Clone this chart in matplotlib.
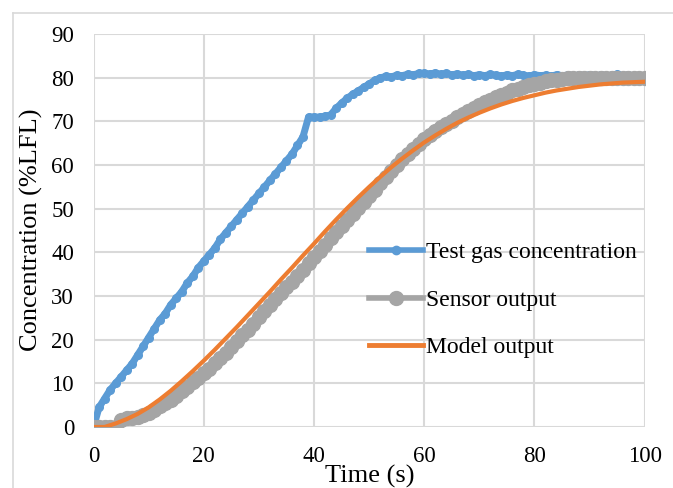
import matplotlib
matplotlib.use('Agg')
import matplotlib.pyplot as plt
from matplotlib.lines import Line2D
import numpy as np

plt.rcParams['font.family'] = ['Liberation Serif', 'DejaVu Serif']

# time axis (s) for the measured series, 1 s steps
t_meas = np.arange(0, 101, 1)

test_gas = [0, 4.5, 6.5, 8.5, 10, 11.5, 13, 14.5, 16.5, 18.5,
            20.5, 22.5, 24.5, 26, 28, 29.5, 31, 33, 34.5, 36.5,
            38, 39.5, 41, 43, 44.5, 46, 47.5, 49, 50.5, 52,
            53.5, 55, 56.5, 58, 59.5, 61, 62.5, 64.5, 66.5, 71,
            71, 71, 71.2, 71.5, 73, 74.2, 75.3, 76.2, 77, 77.8,
            78.6, 79.4, 80, 80.3, 80.2, 80.6, 80.5, 80.8, 80.7, 81,
            81, 80.9, 81.1, 80.8, 81, 80.7, 80.9, 80.6, 80.8, 80.5,
            80.7, 80.5, 80.8, 80.6, 80.4, 80.7, 80.5, 80.8, 80.6, 80.4,
            80.7, 80.5, 80.6, 80.4, 80.7, 80.5, 80.6, 80.4, 80.6, 80.5,
            80.7, 80.5, 80.6, 80.4, 80.6, 80.8, 80.5, 80.6, 80.4, 80.3,
            80.2]

sensor = [0, 0, 0, 0, 0, 1.5, 2, 2, 2.2, 2.7,
          3.3, 4, 4.7, 5.5, 6.3, 7.2, 8.2, 9.2, 10.2, 11.2,
          12.3, 13.4, 14.6, 15.8, 17, 18.3, 19.6, 21, 22.3, 23.7,
          25.1, 26.5, 27.9, 29.3, 30.7, 32, 33.3, 34.6, 36, 37.5,
          39, 40.4, 41.8, 43.2, 44.6, 46, 47.4, 48.8, 50.2, 51.6,
          53, 54.4, 55.8, 57.2, 58.6, 60, 61.3, 62.5, 63.7, 64.8,
          65.9, 66.9, 67.8, 68.7, 69.5, 70.2, 71, 71.7, 72.4, 73.1,
          73.8, 74.4, 75, 75.6, 76.1, 76.6, 77.1, 77.5, 77.9, 78.3,
          78.6, 78.9, 79.2, 79.4, 79.6, 79.8, 79.9, 80, 80, 80,
          80, 80, 80, 80, 80, 80, 80, 80, 80, 80,
          80]

# model output, 2 s steps
t_model = np.arange(0, 101, 2)
model = [0, 0, 0.8, 1.8, 3, 4.5, 6.3, 8.3, 10.5, 12.8,
         15.2, 17.7, 20.3, 22.9, 25.6, 28.3, 31, 33.8, 36.5, 39.3,
         42, 44.8, 47.5, 50.1, 52.6, 55, 57.3, 59.5, 61.5, 63.4,
         65.2, 66.8, 68.3, 69.7, 70.9, 72, 73, 73.9, 74.7, 75.4,
         76, 76.6, 77.1, 77.5, 77.9, 78.2, 78.5, 78.7, 78.9, 79.0,
         79.1]

labels = ['Test gas concentration', 'Sensor output', 'Model output']
colors = ['#5B9BD5', '#A5A5A5', '#ED7D31']

fig = plt.figure(figsize=(6.73, 4.88), dpi=100)
ax = fig.add_axes([0.139, 0.125, 0.819, 0.805])

ax.plot(t_meas, test_gas, color=colors[0], lw=5, marker='o', ms=5.5, zorder=3)
ax.plot(t_meas, sensor, color=colors[1], lw=5, marker='o', ms=10, zorder=4)
ax.plot(t_model, model, color=colors[2], lw=3, zorder=5)

ax.set_xlim(0, 100)
ax.set_ylim(0, 90)
ax.set_xticks(np.arange(0, 101, 20))
ax.set_yticks(np.arange(0, 91, 10))
ax.grid(True, color='#d9d9d9', lw=1.5)
ax.set_axisbelow(True)
for s in ax.spines.values():
    s.set_visible(False)
ax.tick_params(length=0, labelsize=16.5, colors='black')
ax.tick_params(axis='y', pad=14)
ax.tick_params(axis='x', pad=14)

ax.set_xlabel('Time (s)', fontsize=19, va='center')
ax.xaxis.set_label_coords(0.501, -0.125)
ax.set_ylabel('Concentration (%LFL)', fontsize=19, va='center')
ax.yaxis.set_label_coords(-0.112, 0.502)

handles = [Line2D([], [], color=colors[0], lw=4, marker='o', ms=6),
           Line2D([], [], color=colors[1], lw=4, marker='o', ms=10),
           Line2D([], [], color=colors[2], lw=3.5)]
ax.legend(handles, labels, loc='center left', bbox_to_anchor=(0.4995, 0.323),
          frameon=False, fontsize=17, handlelength=2.3, handletextpad=0.13,
          labelspacing=1.1, borderaxespad=0, borderpad=0)

# light frame around the chart area
fig.add_artist(Line2D([0.019, 0.019], [0, 0.973], color='#d9d9d9', lw=1.2,
                      transform=fig.transFigure))
fig.add_artist(Line2D([0.019, 1], [0.973, 0.973], color='#d9d9d9', lw=1.2,
                      transform=fig.transFigure))

fig.savefig('out.png', dpi=100)
